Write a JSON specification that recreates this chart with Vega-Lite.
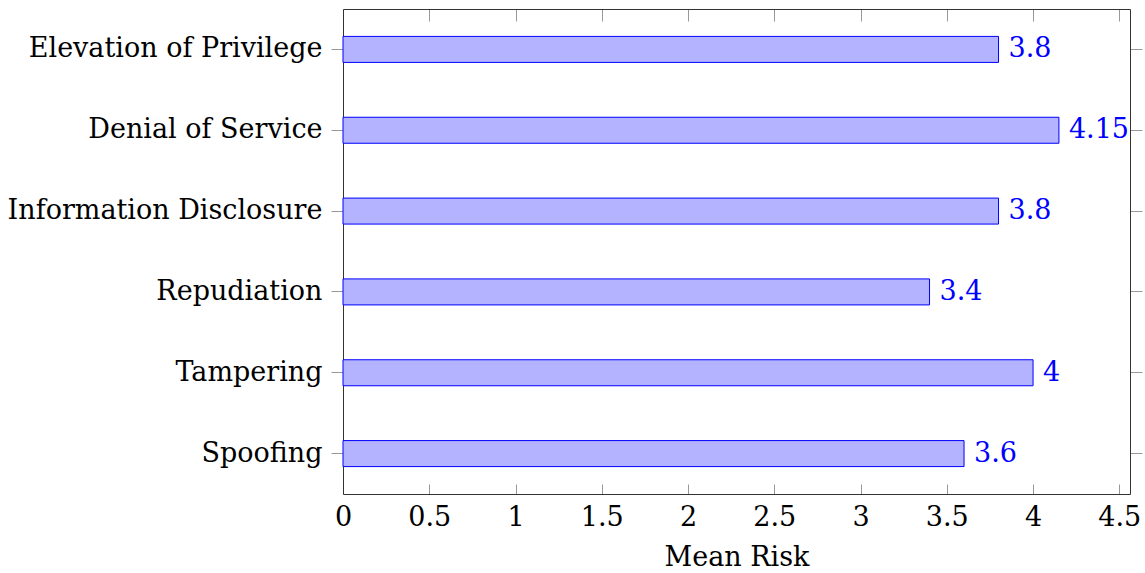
{
  "$schema": "https://vega.github.io/schema/vega-lite/v6.json",
  "width": 787,
  "height": 485,
  "autosize": {"type": "none"},
  "padding": {"left": 343, "top": 9, "right": 15, "bottom": 79},
  "background": "white",
  "config": {
    "view": {"stroke": null},
    "font": "DejaVu Serif",
    "axis": {"grid": false, "domainColor": "#333333", "tickColor": "#999999", "labelColor": "black", "titleColor": "black", "labelFont": "DejaVu Serif", "titleFont": "DejaVu Serif", "labelFontSize": 27, "titleFontSize": 27, "titleFontWeight": "normal", "labelLimit": 500}
  },
  "data": {"values": [
    {"category": "Elevation of Privilege", "risk": 3.8},
    {"category": "Denial of Service", "risk": 4.15},
    {"category": "Information Disclosure", "risk": 3.8},
    {"category": "Repudiation", "risk": 3.4},
    {"category": "Tampering", "risk": 4},
    {"category": "Spoofing", "risk": 3.6}
  ]},
  "resolve": {"axis": {"x": "independent", "y": "independent"}},
  "layer": [
    {
      "mark": {"type": "bar", "size": 26, "fill": "#b3b3ff", "stroke": "#0000ff", "strokeWidth": 1},
      "encoding": {
        "y": {"field": "category", "type": "nominal", "sort": null, "scale": {"paddingInner": 0, "paddingOuter": 0},
              "axis": {"title": null, "orient": "left", "tickSize": 12, "labelPadding": 9}},
        "x": {"field": "risk", "type": "quantitative", "scale": {"domain": [0, 4.562], "nice": false, "zero": true},
              "axis": {"title": "Mean Risk", "orient": "bottom", "values": [0, 0.5, 1, 1.5, 2, 2.5, 3, 3.5, 4, 4.5], "tickSize": -10, "labelPadding": 20, "titlePadding": 14, "labelFlush": false, "format": "~g"}}
      }
    },
    {
      "mark": {"type": "text", "align": "left", "baseline": "middle", "dx": 10, "fontSize": 27, "color": "#0000ff", "font": "DejaVu Serif"},
      "encoding": {
        "y": {"field": "category", "type": "nominal", "sort": null,
              "axis": {"title": null, "orient": "right", "tickSize": 12, "labels": false}},
        "x": {"field": "risk", "type": "quantitative",
              "axis": {"title": null, "orient": "top", "values": [0, 0.5, 1, 1.5, 2, 2.5, 3, 3.5, 4, 4.5], "tickSize": -12, "labels": false}},
        "text": {"field": "risk", "type": "quantitative", "format": "~g"}
      }
    }
  ]
}
